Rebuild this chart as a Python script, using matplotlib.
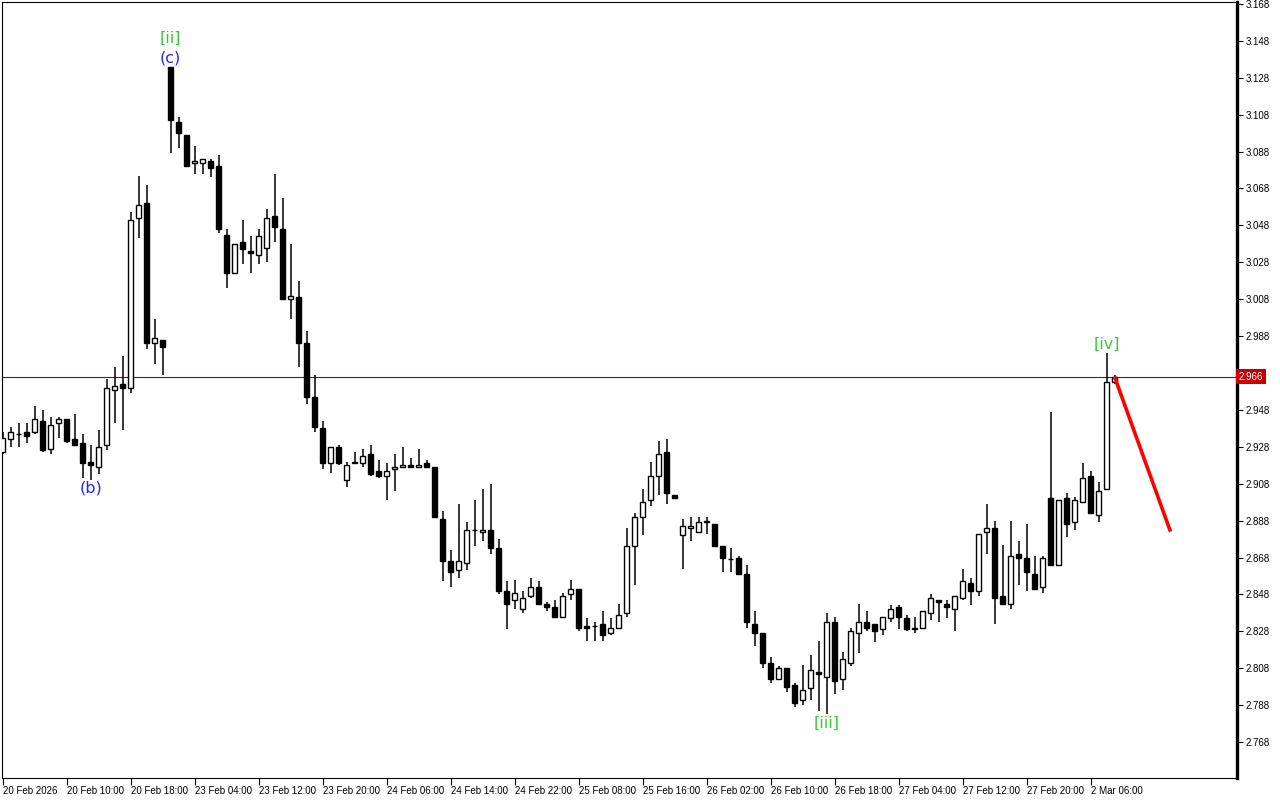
import numpy as np
import matplotlib.pyplot as plt

# hourly bars, 20 Feb 2026 02:00 onwards
opens = [2.925, 2.932, 2.935, 2.936, 2.936, 2.942, 2.927, 2.941, 2.943, 2.932,
         2.930, 2.920, 2.917, 2.929, 2.959, 2.962, 2.960, 3.052, 3.060, 2.984,
         2.986, 3.134, 3.104, 3.097, 3.082, 3.082, 3.083, 3.080, 3.043, 3.022,
         3.039, 3.034, 3.032, 3.036, 3.053, 3.046, 3.008, 3.009, 2.984, 2.955,
         2.938, 2.919, 2.928, 2.910, 2.920, 2.919, 2.924, 2.915, 2.912, 2.916,
         2.917, 2.918, 2.917, 2.919, 2.917, 2.889, 2.866, 2.861, 2.865, 2.883,
         2.882, 2.883, 2.873, 2.850, 2.845, 2.840, 2.847, 2.852, 2.843, 2.841,
         2.836, 2.848, 2.851, 2.831, 2.831, 2.832, 2.827, 2.830, 2.838, 2.874,
         2.890, 2.899, 2.912, 2.925, 2.902, 2.880, 2.884, 2.882, 2.888, 2.886,
         2.874, 2.867, 2.868, 2.859, 2.832, 2.827, 2.811, 2.802, 2.808, 2.799,
         2.791, 2.797, 2.806, 2.803, 2.833, 2.802, 2.811, 2.827, 2.833, 2.832,
         2.829, 2.835, 2.841, 2.835, 2.830, 2.830, 2.838, 2.845, 2.843, 2.840,
         2.846, 2.854, 2.850, 2.882, 2.884, 2.847, 2.843, 2.870, 2.868, 2.859,
         2.852, 2.900, 2.864, 2.900, 2.887, 2.898, 2.912, 2.891, 2.905, 2.963]
highs = [2.936, 2.939, 2.941, 2.941, 2.950, 2.948, 2.944, 2.944, 2.943, 2.946,
         2.935, 2.929, 2.937, 2.965, 2.971, 2.977, 3.055, 3.075, 3.070, 2.997,
         2.986, 3.134, 3.107, 3.097, 3.091, 3.084, 3.084, 3.086, 3.046, 3.038,
         3.051, 3.042, 3.046, 3.057, 3.076, 3.063, 3.038, 3.018, 2.991, 2.967,
         2.942, 2.928, 2.929, 2.920, 2.925, 2.927, 2.929, 2.921, 2.919, 2.924,
         2.928, 2.922, 2.927, 2.921, 2.917, 2.893, 2.872, 2.897, 2.887, 2.899,
         2.905, 2.908, 2.878, 2.855, 2.856, 2.850, 2.857, 2.855, 2.844, 2.845,
         2.849, 2.856, 2.851, 2.835, 2.833, 2.839, 2.835, 2.843, 2.884, 2.892,
         2.905, 2.920, 2.931, 2.932, 2.902, 2.889, 2.890, 2.890, 2.890, 2.886,
         2.874, 2.873, 2.869, 2.864, 2.839, 2.827, 2.814, 2.809, 2.808, 2.800,
         2.810, 2.815, 2.823, 2.838, 2.836, 2.817, 2.830, 2.843, 2.839, 2.832,
         2.836, 2.842, 2.842, 2.837, 2.836, 2.839, 2.848, 2.845, 2.845, 2.847,
         2.862, 2.857, 2.881, 2.897, 2.888, 2.875, 2.888, 2.877, 2.886, 2.869,
         2.869, 2.947, 2.899, 2.903, 2.901, 2.919, 2.915, 2.909, 2.979, 2.967]
lows = [2.924, 2.928, 2.928, 2.930, 2.935, 2.925, 2.924, 2.933, 2.930, 2.929,
        2.911, 2.910, 2.913, 2.926, 2.941, 2.937, 2.957, 3.041, 2.981, 2.973,
        2.967, 3.087, 3.090, 3.080, 3.076, 3.076, 3.074, 3.044, 3.014, 3.022,
        3.027, 3.022, 3.027, 3.028, 3.039, 3.008, 2.997, 2.971, 2.951, 2.936,
        2.916, 2.914, 2.918, 2.906, 2.919, 2.917, 2.912, 2.911, 2.899, 2.904,
        2.917, 2.917, 2.917, 2.917, 2.890, 2.855, 2.852, 2.857, 2.861, 2.874,
        2.877, 2.870, 2.848, 2.829, 2.840, 2.838, 2.846, 2.842, 2.839, 2.835,
        2.835, 2.845, 2.828, 2.823, 2.823, 2.823, 2.826, 2.829, 2.836, 2.853,
        2.880, 2.896, 2.902, 2.897, 2.900, 2.862, 2.877, 2.882, 2.881, 2.874,
        2.860, 2.860, 2.859, 2.830, 2.820, 2.808, 2.800, 2.802, 2.795, 2.787,
        2.788, 2.791, 2.785, 2.783, 2.794, 2.796, 2.809, 2.816, 2.828, 2.822,
        2.826, 2.833, 2.829, 2.828, 2.827, 2.830, 2.834, 2.833, 2.835, 2.828,
        2.845, 2.842, 2.847, 2.870, 2.832, 2.843, 2.840, 2.853, 2.850, 2.851,
        2.849, 2.864, 2.864, 2.879, 2.883, 2.898, 2.892, 2.887, 2.905, 2.962]
closes = [2.933, 2.936, 2.935, 2.934, 2.943, 2.926, 2.940, 2.943, 2.931, 2.929,
          2.919, 2.918, 2.928, 2.960, 2.961, 2.960, 3.051, 3.059, 2.984, 2.987,
          2.982, 3.105, 3.098, 3.080, 3.083, 3.084, 3.079, 3.046, 3.022, 3.038,
          3.035, 3.033, 3.042, 3.052, 3.047, 3.008, 3.010, 2.984, 2.955, 2.939,
          2.919, 2.928, 2.919, 2.918, 2.919, 2.923, 2.913, 2.912, 2.915, 2.917,
          2.918, 2.917, 2.918, 2.917, 2.890, 2.866, 2.860, 2.866, 2.883, 2.883,
          2.883, 2.873, 2.850, 2.843, 2.849, 2.846, 2.852, 2.843, 2.841, 2.836,
          2.847, 2.851, 2.830, 2.830, 2.831, 2.826, 2.830, 2.837, 2.874, 2.890,
          2.898, 2.912, 2.924, 2.903, 2.900, 2.885, 2.885, 2.887, 2.887, 2.874,
          2.868, 2.867, 2.859, 2.833, 2.827, 2.811, 2.802, 2.808, 2.798, 2.789,
          2.796, 2.807, 2.805, 2.833, 2.801, 2.813, 2.828, 2.833, 2.830, 2.828,
          2.836, 2.840, 2.836, 2.829, 2.829, 2.839, 2.846, 2.844, 2.841, 2.847,
          2.855, 2.850, 2.881, 2.884, 2.846, 2.843, 2.869, 2.868, 2.860, 2.851,
          2.868, 2.864, 2.899, 2.886, 2.899, 2.911, 2.892, 2.904, 2.963, 2.966]

time_labels = ["20 Feb 2026", "20 Feb 10:00", "20 Feb 18:00", "23 Feb 04:00",
               "23 Feb 12:00", "23 Feb 20:00", "24 Feb 06:00", "24 Feb 14:00",
               "24 Feb 22:00", "25 Feb 08:00", "25 Feb 16:00", "26 Feb 02:00",
               "26 Feb 10:00", "26 Feb 18:00", "27 Feb 04:00", "27 Feb 12:00",
               "27 Feb 20:00", "2 Mar 06:00"]
label_step = 8  # one time label every 8 bars

price_ticks = [2.768, 2.788, 2.808, 2.828, 2.848, 2.868, 2.888, 2.908, 2.928,
               2.948, 2.968, 2.988, 3.008, 3.028, 3.048, 3.068, 3.088, 3.108,
               3.128, 3.148, 3.168]
last_price = 2.966

# elliott wave marks: (text, bar, anchor, colour)
waves = [("[ii]", 21, "high", "#33cc33"), ("(c)", 21, "high", "#2222ff"),
         ("(b)", 11, "low", "#2222ff"), ("[iii]", 103, "low", "#33cc33"),
         ("[iv]", 138, "high", "#33cc33")]
wave_offsets = [20.5, 6.5, -6.0, -6.5, 6.0]  # points above/below the extreme

# projected move after [iv]
proj_bars = [139, 146]
proj_prices = [2.966, 2.882]

plt.rcParams['font.family'] = 'DejaVu Sans'
fig = plt.figure(figsize=(12.8, 8), dpi=100)
ax = fig.add_axes([2 / 1280, 22 / 800, 1235 / 1280, 776 / 800])

o = np.array(opens)
h = np.array(highs)
l = np.array(lows)
c = np.array(closes)
x = np.arange(len(o))
up = c >= o
body_lo = np.minimum(o, c)
body_h = np.abs(c - o)

ax.vlines(x, l, h, color='black', lw=1.1, zorder=2)
ax.bar(x[up], body_h[up], bottom=body_lo[up], width=0.56, facecolor='white',
       edgecolor='black', lw=1.0, zorder=3)
ax.bar(x[~up], body_h[~up], bottom=body_lo[~up], width=0.56, facecolor='black',
       edgecolor='black', lw=1.0, zorder=3)

ax.axhline(last_price, color='#a00000', lw=0.8, zorder=1)
ax.plot(proj_bars, proj_prices, color='#ff0000', lw=2.6, zorder=4,
        solid_capstyle='butt')

for (txt, bar, anchor, col), off in zip(waves, wave_offsets):
    y = h[bar] if anchor == "high" else l[bar]
    ax.annotate(txt, xy=(bar, y), xytext=(0, off), textcoords='offset points',
                ha='center', va='center', fontsize=11.5, color=col, zorder=5)

ax.set_xlim(-0.0625, 154.31)
ax.set_ylim(2.74849, 3.16908)

ax.set_xticks(np.arange(len(time_labels)) * label_step)
ax.set_xticklabels(time_labels, ha='left', fontfamily='Liberation Sans',
                   fontsize=7)
ax.tick_params(axis='x', direction='out', length=5, width=0.8, pad=1)

# the tick under the current-price box keeps its mark but not its text
ax.yaxis.tick_right()
ax.set_yticks(price_ticks)
ax.set_yticklabels(["" if abs(p - last_price) < 0.005 else f"{p:.3f}"
                    for p in price_ticks],
                   fontfamily='Liberation Sans', fontsize=7)
ax.tick_params(axis='y', direction='out', length=4, width=0.8, pad=2)

for side in ['top', 'left', 'bottom']:
    ax.spines[side].set_linewidth(0.8)
ax.spines['right'].set_linewidth(2.4)

ax.text(1.0015, last_price, f"{last_price:.3f}", transform=ax.get_yaxis_transform(),
        ha='left', va='center', fontsize=7, fontfamily='Liberation Sans',
        color='white', clip_on=False, zorder=10,
        bbox=dict(boxstyle='square,pad=0.25', facecolor='#c80000', edgecolor='none'))

fig.savefig('out.png', dpi=100, facecolor='white')
